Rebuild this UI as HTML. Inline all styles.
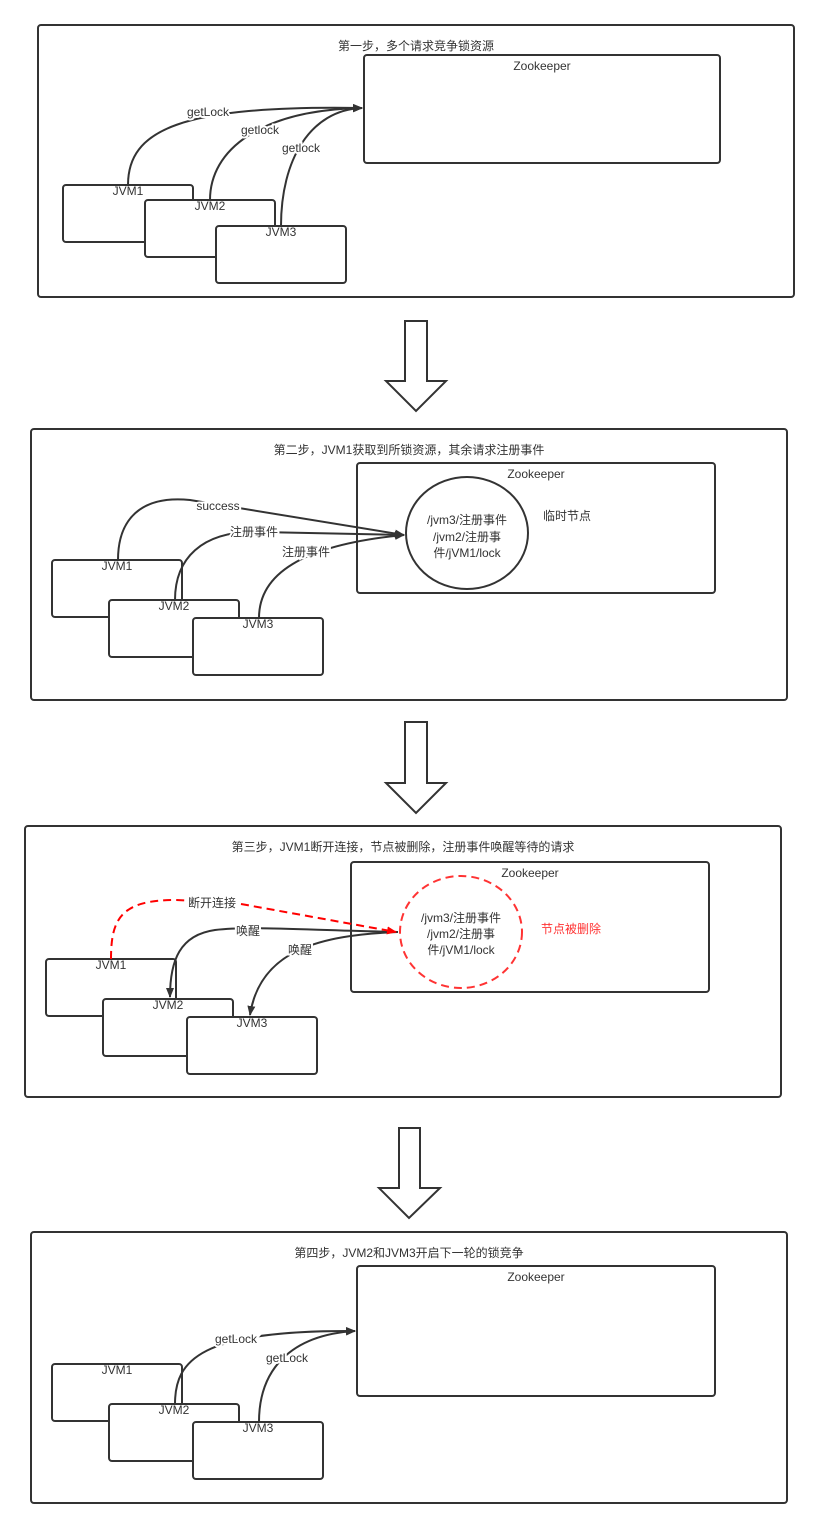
<!DOCTYPE html>
<html><head><meta charset="utf-8"><style>
html,body{margin:0;padding:0;background:#fff;}
svg{display:block;}
text{font-family:"Liberation Sans","Noto Sans CJK SC",sans-serif;font-size:12px;fill:#333;}
</style></head><body>
<svg width="819" height="1529" viewBox="0 0 819 1529" xmlns="http://www.w3.org/2000/svg">
<defs>
<marker id="ah" markerWidth="10" markerHeight="8" refX="9" refY="4" orient="auto" markerUnits="userSpaceOnUse"><path d="M0,0 L10,4 L0,8 Z" fill="#333"/></marker>
<marker id="ahr" markerWidth="10" markerHeight="8" refX="9" refY="4" orient="auto" markerUnits="userSpaceOnUse"><path d="M0,0 L10,4 L0,8 Z" fill="#f00"/></marker>
</defs>
<g fill="#fff" stroke="#333" stroke-width="2">
<!-- panel 1 -->
<rect x="38" y="25" width="756" height="272" rx="3"/>
<rect x="364" y="55" width="356" height="108" rx="3"/>
<rect x="63" y="185" width="130" height="57" rx="3"/>
<rect x="145" y="200" width="130" height="57" rx="3"/>
<rect x="216" y="226" width="130" height="57" rx="3"/>
<!-- panel 2 -->
<rect x="31" y="429" width="756" height="271" rx="3"/>
<rect x="357" y="463" width="358" height="130" rx="3"/>
<ellipse cx="467" cy="533" rx="61" ry="56"/>
<rect x="52" y="560" width="130" height="57" rx="3"/>
<rect x="109" y="600" width="130" height="57" rx="3"/>
<rect x="193" y="618" width="130" height="57" rx="3"/>
<!-- panel 3 -->
<rect x="25" y="826" width="756" height="271" rx="3"/>
<rect x="351" y="862" width="358" height="130" rx="3"/>
<rect x="46" y="959" width="130" height="57" rx="3"/>
<rect x="103" y="999" width="130" height="57" rx="3"/>
<rect x="187" y="1017" width="130" height="57" rx="3"/>
<!-- panel 4 -->
<rect x="31" y="1232" width="756" height="271" rx="3"/>
<rect x="357" y="1266" width="358" height="130" rx="3"/>
<rect x="52" y="1364" width="130" height="57" rx="3"/>
<rect x="109" y="1404" width="130" height="57" rx="3"/>
<rect x="193" y="1422" width="130" height="57" rx="3"/>
<!-- down arrows -->
<path d="M405,321 H427 V381 H446 L416,411 L386,381 H405 Z"/>
<path d="M405,722 H427 V783 H446 L416,813 L386,783 H405 Z"/>
<path d="M399,1128 H420 V1188 H440 L409,1218 L379,1188 H399 Z"/>
</g>
<ellipse cx="461" cy="932" rx="61" ry="56" fill="none" stroke="#f33" stroke-width="2" stroke-dasharray="8,5"/>
<g fill="none" stroke="#333" stroke-width="2">
<path d="M128,185 C128,130 180,105 362,108" marker-end="url(#ah)"/>
<path d="M210,200 C210,150 260,110 362,108" marker-end="url(#ah)"/>
<path d="M281,226 C281,160 310,110 362,108" marker-end="url(#ah)"/>
<path d="M118,560 C118,520 140,495 190,500 L404,535" marker-end="url(#ah)"/>
<path d="M175,600 C175,560 200,530 260,532 L404,535" marker-end="url(#ah)"/>
<path d="M259,618 C259,575 300,545 404,535" marker-end="url(#ah)"/>
<path d="M398,932 C300,930 250,926 215,930 C180,935 170,960 170,997" marker-end="url(#ah)"/>
<path d="M398,932 C320,935 260,950 250,1015" marker-end="url(#ah)"/>
<path d="M175,1404 C175,1360 200,1330 355,1331" marker-end="url(#ah)"/>
<path d="M259,1422 C259,1370 290,1335 355,1331" marker-end="url(#ah)"/>
</g>
<path d="M111,959 C111,920 120,900 175,900 L230,902 L396,932" fill="none" stroke="#f00" stroke-width="2" stroke-dasharray="8,5" marker-end="url(#ahr)"/>
<g text-anchor="middle">
<text x="416" y="50">第一步，多个请求竞争锁资源</text>
<text x="542" y="70">Zookeeper</text>
<text x="128" y="195">JVM1</text>
<text x="210" y="210">JVM2</text>
<text x="281" y="236">JVM3</text>
<text x="208" y="116" style="paint-order:stroke;stroke:#fff;stroke-width:4">getLock</text>
<text x="260" y="134" style="paint-order:stroke;stroke:#fff;stroke-width:4">getlock</text>
<text x="301" y="152" style="paint-order:stroke;stroke:#fff;stroke-width:4">getlock</text>

<text x="409" y="454">第二步，JVM1获取到所锁资源，其余请求注册事件</text>
<text x="536" y="478">Zookeeper</text>
<text x="467" y="524">/jvm3/注册事件</text>
<text x="467" y="541">/jvm2/注册事</text>
<text x="467" y="557">件/jVM1/lock</text>
<text x="567" y="520">临时节点</text>
<text x="117" y="570">JVM1</text>
<text x="174" y="610">JVM2</text>
<text x="258" y="628">JVM3</text>
<text x="218" y="510" style="paint-order:stroke;stroke:#fff;stroke-width:4">success</text>
<text x="254" y="536" style="paint-order:stroke;stroke:#fff;stroke-width:4">注册事件</text>
<text x="306" y="556" style="paint-order:stroke;stroke:#fff;stroke-width:4">注册事件</text>

<text x="403" y="851">第三步，JVM1断开连接，节点被删除，注册事件唤醒等待的请求</text>
<text x="530" y="877">Zookeeper</text>
<text x="461" y="922">/jvm3/注册事件</text>
<text x="461" y="938">/jvm2/注册事</text>
<text x="461" y="954">件/jVM1/lock</text>
<text x="571" y="933" style="fill:#f33">节点被删除</text>
<text x="111" y="969">JVM1</text>
<text x="168" y="1009">JVM2</text>
<text x="252" y="1027">JVM3</text>
<text x="212" y="907" style="paint-order:stroke;stroke:#fff;stroke-width:4">断开连接</text>
<text x="248" y="935" style="paint-order:stroke;stroke:#fff;stroke-width:4">唤醒</text>
<text x="300" y="954" style="paint-order:stroke;stroke:#fff;stroke-width:4">唤醒</text>

<text x="409" y="1257">第四步，JVM2和JVM3开启下一轮的锁竞争</text>
<text x="536" y="1281">Zookeeper</text>
<text x="117" y="1374">JVM1</text>
<text x="174" y="1414">JVM2</text>
<text x="258" y="1432">JVM3</text>
<text x="236" y="1343" style="paint-order:stroke;stroke:#fff;stroke-width:4">getLock</text>
<text x="287" y="1362" style="paint-order:stroke;stroke:#fff;stroke-width:4">getLock</text>
</g>
</svg>
</body></html>
